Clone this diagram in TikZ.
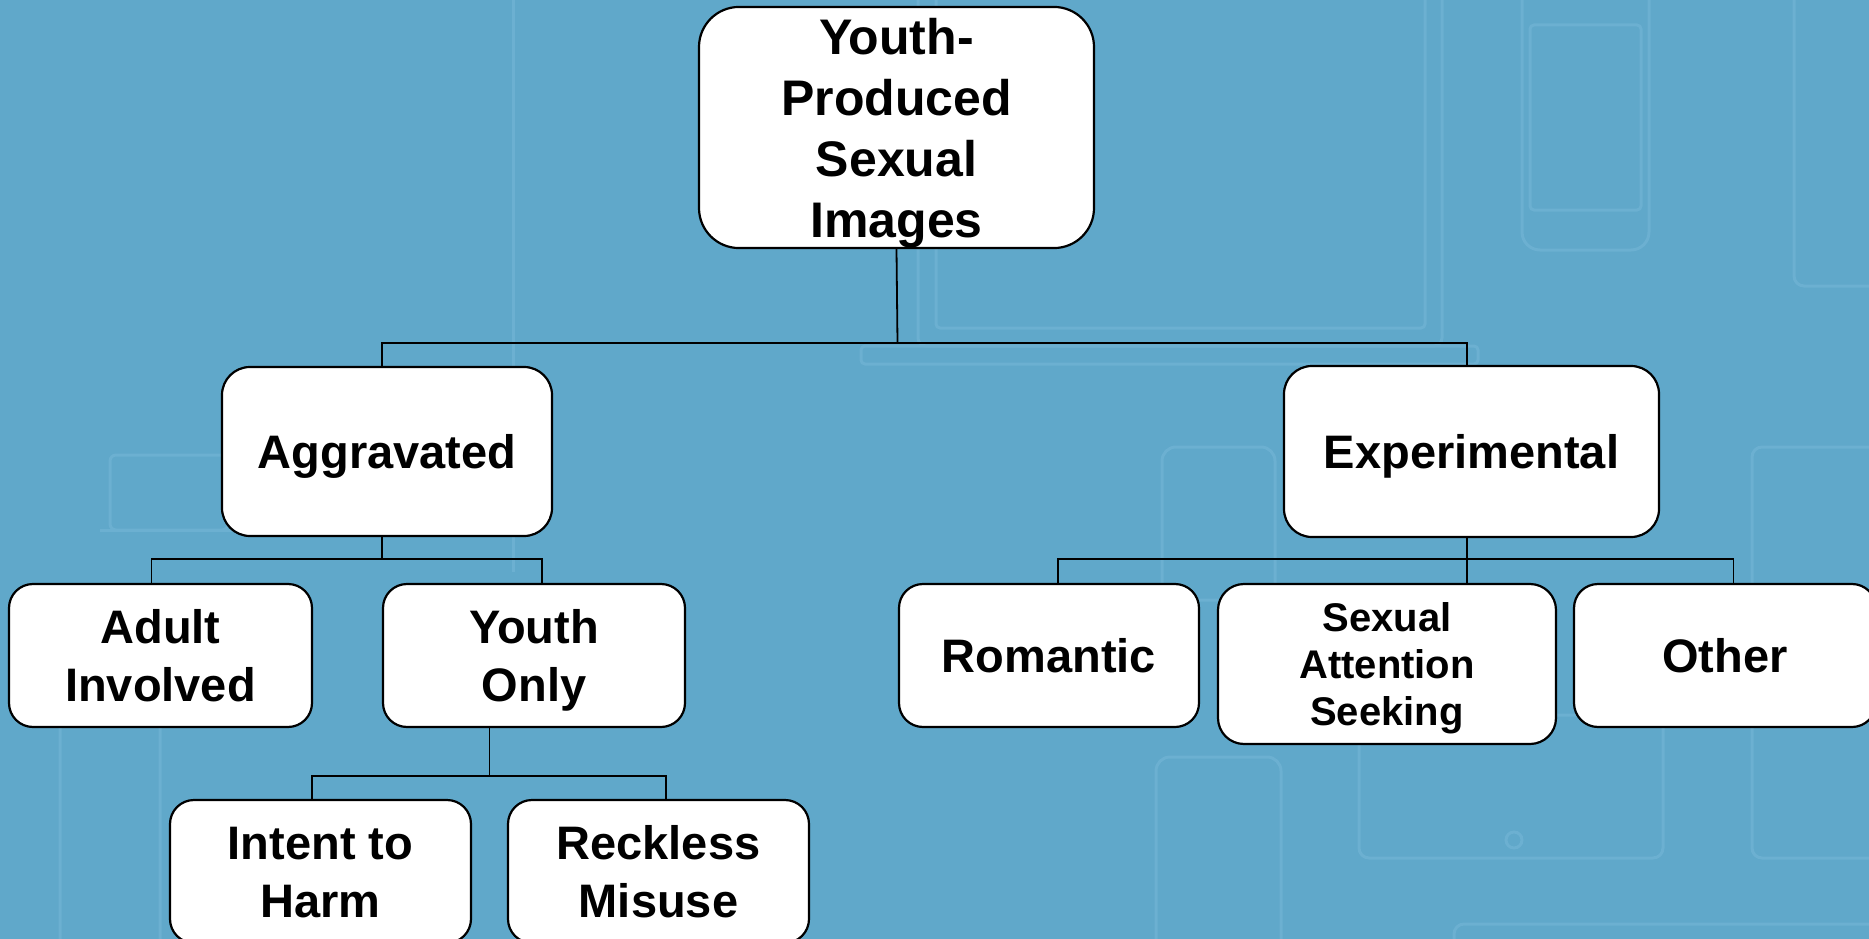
\documentclass[tikz,border=0pt]{standalone}
\usepackage{fontspec}
\setmainfont{Liberation Sans}
\definecolor{bgblue}{RGB}{96,168,202}
\definecolor{devline}{RGB}{108,176,209}
\newcommand\txtroot{\fontsize{50}{61}\selectfont\bfseries}
\newcommand\txtmain{\fontsize{47}{58}\selectfont\bfseries}
\newcommand\txtsmall{\fontsize{40}{47}\selectfont\bfseries}
\newcommand\mytopstrut{\rule{0pt}{0.95em}}
\newcommand\mybotstrut{\rule[-0.21em]{0pt}{0.21em}}
\begin{document}
\begin{tikzpicture}[x=1pt,y=-1pt,
  box/.style={draw=black, line width=2.2pt, fill=white, rounded corners=#1,
              inner sep=0pt, align=center},
  conn/.style={draw=black, line width=1.8pt},
  device/.style={draw=devline, line width=3pt, rounded corners=#1}]
\useasboundingbox (0,0) rectangle (1869,939);
\fill[bgblue] (0,0) rectangle (1869,939);

% faint background devices
\draw[device=6pt] (513,-10) -- (513,572);
\draw[device=8pt] (918,-20) rectangle (1442,346);
\draw[device=4pt] (936,-5) rectangle (1425,328);
\draw[device=4pt] (861,346) rectangle (1478,364);
\draw[device=18pt] (1522,-20) rectangle (1649,250);
\draw[device=4pt] (1530,25) rectangle (1641,210);
\draw[device=10pt] (1794,-20) rectangle (1890,286);
\draw[device=6pt] (110,455) rectangle (228,530);
\draw[device=6pt] (100,530) -- (240,530);
\draw[device=14pt] (1162,447) rectangle (1275,600);
\draw[device=10pt] (1359,715) rectangle (1663,858);
\draw[devline, line width=3pt] (1514,840) circle (8);
\draw[device=14pt] (1156,757) rectangle (1281,960);
\draw[device=10pt] (1752,447) rectangle (1890,858);
\draw[device=10pt] (1454,924) rectangle (1890,980);
\draw[device=10pt] (60,715) rectangle (160,960);

% nodes
\node[box=40pt, minimum width=395pt, minimum height=239pt, font=\txtroot] (root) at (896.5,127.5)
  {\mytopstrut Youth-\\Produced\\Sexual\\Images\mybotstrut};
\node[box=28pt, minimum width=330pt, minimum height=169pt, font=\txtmain] (agg) at (387,451.5)
  {\mytopstrut Aggravated\mybotstrut};
\node[box=28pt, minimum width=375pt, minimum height=171pt, font=\txtmain] (exp) at (1471.5,451.5)
  {\mytopstrut Experimental\mybotstrut};
\node[box=24pt, minimum width=303pt, minimum height=143pt, font=\txtmain] (adult) at (160.5,655.5)
  {\mytopstrut Adult\\Involved\mybotstrut};
\node[box=24pt, minimum width=302pt, minimum height=143pt, font=\txtmain] (yonly) at (534,655.5)
  {\mytopstrut Youth\\Only\mybotstrut};
\node[box=24pt, minimum width=300pt, minimum height=143pt, font=\txtmain] (rom) at (1049,655.5)
  {\mytopstrut Romantic\mybotstrut};
\node[box=26pt, minimum width=338pt, minimum height=160pt, font=\txtsmall] (sex) at (1387,664)
  {\mytopstrut Sexual\\Attention\\Seeking\mybotstrut};
\node[box=24pt, minimum width=302pt, minimum height=143pt, font=\txtmain] (other) at (1725,655.5)
  {\mytopstrut Other\mybotstrut};
\node[box=24pt, minimum width=301pt, minimum height=143pt, font=\txtmain] (intent) at (320.5,871.5)
  {\mytopstrut Intent to\\Harm\mybotstrut};
\node[box=24pt, minimum width=301pt, minimum height=143pt, font=\txtmain] (reck) at (658.5,871.5)
  {\mytopstrut Reckless\\Misuse\mybotstrut};

% connector points
\coordinate (j0) at (897.5,343);
\coordinate (aggT) at ([xshift=-5pt]agg.north);
\coordinate (expT) at ([xshift=-4.5pt]exp.north);
\coordinate (aggB) at ([xshift=-5pt]agg.south);
\coordinate (j1) at (382,559);
\coordinate (adultT) at ([xshift=-9pt]adult.north);
\coordinate (yonlyT) at ([xshift=8pt]yonly.north);
\coordinate (yonlyB) at ([xshift=-44.5pt]yonly.south);
\coordinate (j2) at (489.5,776);
\coordinate (intentT) at ([xshift=-8.5pt]intent.north);
\coordinate (reckT) at ([xshift=7.5pt]reck.north);
\coordinate (expB) at ([xshift=-4.5pt]exp.south);
\coordinate (j3) at (1467,559);
\coordinate (sexT) at ([xshift=80pt]sex.north);
\coordinate (romT) at ([xshift=9pt]rom.north);
\coordinate (otherT) at ([xshift=8.5pt]other.north);

% connectors
\draw[conn] (root.south) -- (j0);
\draw[conn] (aggT) |- (j0) -| (expT);
\draw[conn] (aggB) -- (j1);
\draw[conn] (adultT) |- (j1) -| (yonlyT);
\draw[conn] (yonlyB) -- (j2);
\draw[conn] (intentT) |- (j2) -| (reckT);
\draw[conn] (expB) -- (j3) -- (sexT);
\draw[conn] (romT) |- (j3) -| (otherT);
\end{tikzpicture}
\end{document}
